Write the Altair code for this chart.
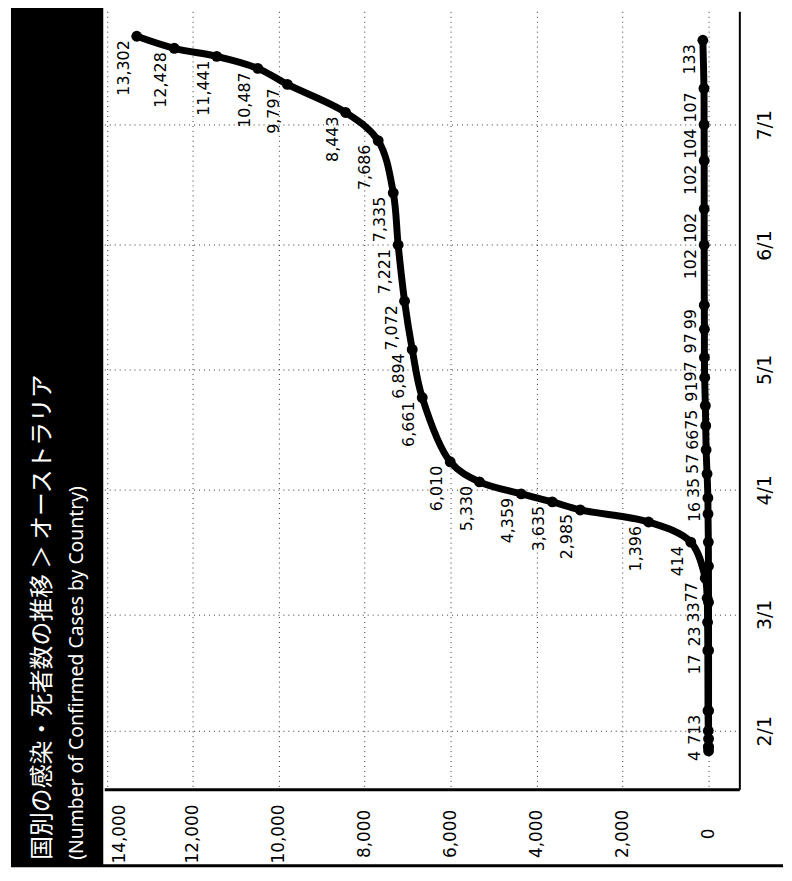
import altair as alt
import pandas as pd

# ---- data ----
conf_dates = ["2020-01-28", "2020-02-01", "2020-02-06", "2020-02-21", "2020-02-28",
              "2020-03-05", "2020-03-10", "2020-03-19", "2020-03-24", "2020-03-27",
              "2020-03-29", "2020-03-31", "2020-04-03", "2020-04-08", "2020-04-24",
              "2020-05-06", "2020-05-18", "2020-06-01", "2020-06-14", "2020-06-27",
              "2020-07-04", "2020-07-11", "2020-07-15", "2020-07-18", "2020-07-20",
              "2020-07-23"]
conf_values = [4, 7, 13, 17, 23, 33, 77, 414, 1396, 2985, 3635, 4359, 5330, 6010, 6661,
               6894, 7072, 7221, 7335, 7686, 8443, 9797, 10487, 11441, 12428, 13302]

death_dates = ["2020-01-27", "2020-01-28", "2020-01-30", "2020-02-06", "2020-02-21",
               "2020-03-04", "2020-03-13", "2020-03-19", "2020-03-26", "2020-03-30",
               "2020-04-05", "2020-04-11", "2020-04-17", "2020-04-22", "2020-04-29",
               "2020-05-04", "2020-05-11", "2020-05-17", "2020-06-01", "2020-06-10",
               "2020-06-22", "2020-07-01", "2020-07-10", "2020-07-22"]
death_values = [0, 0, 0, 0, 0, 1, 3, 5, 13, 16, 35, 57, 66, 75, 91, 97, 97, 99, 102, 102,
                102, 104, 107, 133]
death_labels = ["", "", "", "", "", "", "", "", "", "16", "35", "57", "66", "75", "91",
                "97", "97", "99", "102", "102", "102", "104", "107", "133"]

value_ticks = [0, 2000, 4000, 6000, 8000, 10000, 12000, 14000]
month_ticks = [2, 3, 4, 5, 6, 7]

title_text = "国別の感染・死者数の推移 ＞ オーストラリア"
subtitle_text = "(Number of Confirmed Cases by Country)"

# ---- tables ----
conf_df = pd.DataFrame({"date": [d + "T00:00:00" for d in conf_dates],
                        "value": conf_values, "series": "confirmed",
                        "label": [f"{v:,}" for v in conf_values]})
death_df = pd.DataFrame({"date": [d + "T00:00:00" for d in death_dates],
                         "value": death_values, "series": "deaths",
                         "label": death_labels})
df = pd.concat([conf_df, death_df], ignore_index=True)
ticks_df = pd.DataFrame({"v": value_ticks, "t": [f"{v:,}" for v in value_ticks]})
one = pd.DataFrame({"k": [0]})

W, H = 640, 784
top_v = max(value_ticks)

xscale = alt.Scale(domain=[-716, 14058], reverse=True, nice=False, zero=False)
yscale = alt.Scale(domain=[alt.DateTime(year=2020, month=1, date=17, hours=10),
                           alt.DateTime(year=2020, month=7, date=29, hours=5)],
                   nice=False)

grid_style = dict(grid=True, gridColor="#333333", gridDash=[1, 4], gridWidth=1)

xaxis = alt.Axis(values=value_ticks, labels=False, ticks=False, domain=True,
                 domainColor="black", domainWidth=3, title=None, **grid_style)
yaxis = alt.Axis(orient="right",
                 values=[alt.DateTime(year=2020, month=m, date=1) for m in month_ticks],
                 format="%-m/%-d", labelAngle=270, labelAlign="center",
                 labelBaseline="top", labelPadding=16, labelFont="DejaVu Sans",
                 labelFontSize=19, labelColor="black", ticks=False, domain=True,
                 domainColor="black", domainWidth=2, title=None, labelOverlap=False,
                 **grid_style)

base = alt.Chart(df).encode(
    x=alt.X("value:Q", scale=xscale, axis=xaxis),
    y=alt.Y("date:T", scale=yscale, axis=yaxis),
    detail="series:N",
    order=alt.Order("date:T"),
)

lines = base.mark_line(color="black", strokeWidth=7, interpolate="catmull-rom",
                       point=alt.OverlayMarkDef(filled=True, size=120, color="black"))

labels = base.mark_text(angle=270, align="right", baseline="bottom", dx=-4, dy=-5,
                        font="DejaVu Sans", fontSize=16, color="black").encode(
    text="label:N")

# value-axis labels (rotated like the rest of the picture)
val_labels = alt.Chart(ticks_df).transform_filter(f"datum.v < {top_v}").mark_text(
    angle=270, align="center", baseline="middle", font="DejaVu Sans", fontSize=17,
    color="black").encode(
    x=alt.X("v:Q", scale=xscale, axis=xaxis), y=alt.value(H + 45), text="t:N")
val_label_top = alt.Chart(ticks_df).transform_filter(f"datum.v == {top_v}").mark_text(
    angle=270, align="center", baseline="middle", font="DejaVu Sans", fontSize=17,
    color="black", dy=13).encode(
    x=alt.X("v:Q", scale=xscale, axis=xaxis), y=alt.value(H + 45), text="t:N")

band = alt.Chart(one).mark_rect(color="black").encode(
    x=alt.value(-94), x2=alt.value(-1), y=alt.value(-10), y2=alt.value(861))

bottom_rule = alt.Chart(one).mark_rule(color="black", strokeWidth=3).encode(
    x=alt.value(-94), x2=alt.value(684), y=alt.value(861))

title = alt.Chart(one).mark_text(text=title_text, angle=270, align="left",
                                 baseline="middle", color="white",
                                 font="Noto Sans CJK JP", fontSize=24).encode(
    x=alt.value(-62), y=alt.value(855))

subtitle = alt.Chart(one).mark_text(text=subtitle_text, angle=270, align="left",
                                    baseline="middle", color="white",
                                    font="Noto Sans", fontSize=19.5).encode(
    x=alt.value(-27), y=alt.value(855))

chart = alt.layer(band, bottom_rule, lines, labels, val_labels, val_label_top,
                  title, subtitle).properties(
    width=W, height=H,
    autosize=alt.AutoSizeParams(type="none"),
    padding={"left": 97, "top": 0, "right": 45, "bottom": 81},
).configure_view(strokeWidth=0)

chart.save("out.html", embed_options={"renderer": "svg", "actions": False})
